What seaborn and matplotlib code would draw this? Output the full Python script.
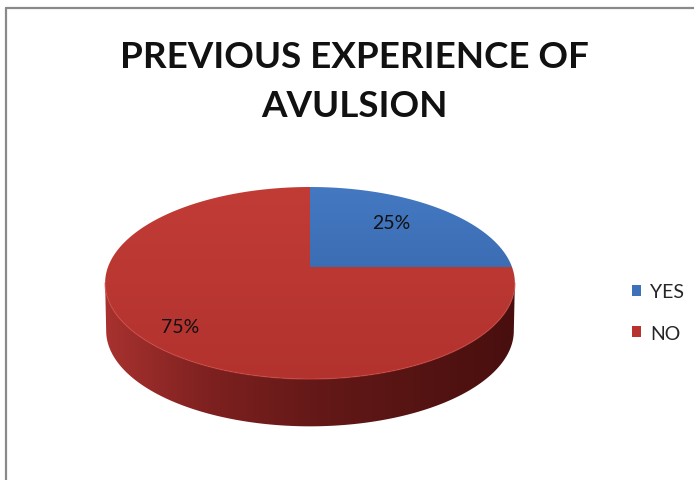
import numpy as np
import matplotlib
matplotlib.use("Agg")
import matplotlib.pyplot as plt
import seaborn as sns
from matplotlib.patches import Polygon, Patch
from matplotlib.colors import LinearSegmentedColormap
from matplotlib.lines import Line2D

# ---- data ----
categories = ["YES", "NO"]
values = [25, 75]
title_lines = ["PREVIOUS EXPERIENCE OF", "AVULSION"]

sns.set_theme(style="white")
plt.rcParams['font.family'] = ['Lato', 'DejaVu Sans']

face_colors = [("#4479C2", "#2F5D9F"), ("#C23C36", "#B2322E")]
legend_colors = ["#3D71BA", "#B8322F"]
side_colors = ["#A8322F", "#7E2120", "#651918", "#561413", "#480F0E"]

W, H = 694, 481
fig = plt.figure(figsize=(W / 100, H / 100), dpi=100)
ax = fig.add_axes([0, 0, 1, 1])
ax.set_xlim(0, W)
ax.set_ylim(H, 0)
ax.axis("off")

# frame lines (top and left visible)
ax.add_line(Line2D([6, 6], [9, H], color="#8a8a8a", lw=1.6))
ax.add_line(Line2D([6, W], [9, 9], color="#8a8a8a", lw=1.6))

# perspective disc geometry (screen pixels)
cx, cy = 310, 268          # projected centre of the disc
A, B, k = 202.0, 93.33, 1 / 6.0
depth = 48


def proj(phi, r=1.0, dz=0.0):
    t = np.deg2rad(phi)
    u, v = r * np.cos(t), r * np.sin(t)
    s = 1 + k * v
    return cx + A * u / s, cy - B * v / s + dz


def grad_fill(poly, c_list, direction, extent, z=2):
    cmap = LinearSegmentedColormap.from_list("g", c_list)
    g = np.linspace(0, 1, 256)
    img = g[:, None] if direction == "v" else g[None, :]
    x0, x1, y0, y1 = extent
    im = ax.imshow(img, cmap=cmap, extent=[x0, x1, y1, y0], aspect="auto",
                   zorder=z, interpolation="bilinear")
    ax.add_patch(poly)
    poly.set_visible(False)
    im.set_clip_path(poly)


# ---- side rim (visible front half) ----
phis = np.linspace(-360, 360, 4000)
pts = np.array([proj(p) for p in phis])
i_left = np.argmin(pts[:, 0])
i_right = np.argmax(pts[:, 0])
phi_l, phi_r = phis[i_left] % 360, phis[i_right] % 360
front = np.linspace(phi_l, phi_r + 360 if phi_r < phi_l else phi_r, 300)
top_arc = [proj(p) for p in front]
bot_arc = [proj(p, 0.995, depth) for p in front[::-1]]
side = Polygon(top_arc + bot_arc, closed=True, facecolor="none", edgecolor="none")
grad_fill(side, side_colors, "h", (cx - 206, cx + 206, 150, 440), z=2)
# subtle highlight on rim edge
hx, hy = zip(*top_arc)
ax.plot(hx, hy, color="#CC4641", lw=1.0, alpha=0.6, zorder=4)

# ---- top face wedges from values ----
total = sum(values)
start = 90.0
mids = []
for i, v in enumerate(values):
    sweep = 360.0 * v / total
    t = np.linspace(start, start - sweep, 400)
    verts = [(cx, cy)] + [proj(a) for a in t]
    poly = Polygon(verts, closed=True, facecolor="none", edgecolor="none")
    grad_fill(poly, list(face_colors[i]), "v", (cx - 210, cx + 210, 185, 385), z=3)
    mids.append(start - sweep / 2)
    start -= sweep

# ---- labels ----
label_r = [(0.62, 0.74), (0.82, 0.82)]
for v, m, (ru, rv) in zip(values, mids, label_r):
    t = np.deg2rad(m)
    u, vv = ru * np.cos(t), rv * np.sin(t)
    s = 1 + k * vv
    x, y = cx + A * u / s, cy - B * vv / s
    ax.text(x, y, f"{v / total * 100:.0f}%", ha="center", va="center",
            fontsize=14, color="#111111", zorder=6)

# ---- title ----
for line, yb in zip(title_lines, [68, 117]):
    ax.text(354, yb, line, ha="center", va="baseline", fontsize=26.5,
            fontweight="bold", color="#111111")

# ---- legend ----
handles = [Patch(facecolor=legend_colors[i], edgecolor="none") for i in range(len(categories))]
leg = ax.legend(handles, categories, loc="center left", bbox_to_anchor=(0.896, 0.348),
                frameon=False, fontsize=14, handlelength=0.5, handleheight=0.5,
                handletextpad=0.45, labelspacing=1.25, borderpad=0)

fig.savefig("out.png", dpi=100)
